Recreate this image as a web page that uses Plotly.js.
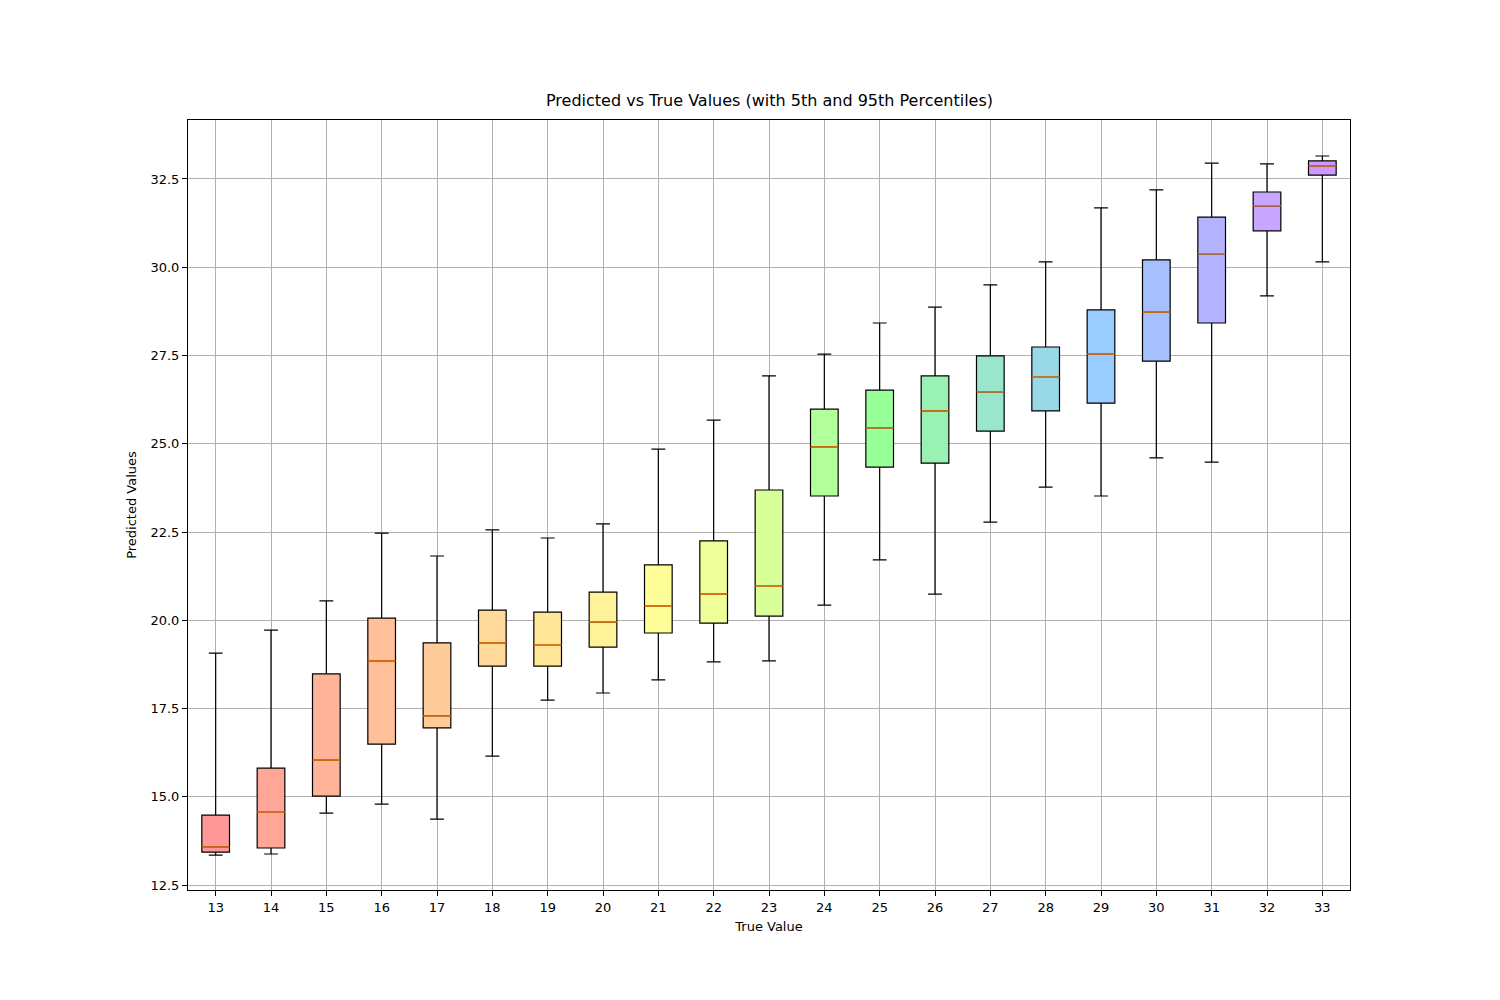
<!DOCTYPE html>
<html>
<head>
<script src="https://cdn.plot.ly/plotly-3.0.1.min.js"></script>
<style>body{margin:0;background:#fff}</style>
</head>
<body>
<div id="chart" style="width:1500px;height:1000px"></div>
<script>
var trueValues = [13,14,15,16,17,18,19,20,21,22,23,24,25,26,27,28,29,30,31,32,33];
var p5     = [13.35,13.38,14.54,14.79,14.37,16.15,17.74,17.94,18.31,18.82,18.85,20.43,21.71,20.74,22.78,23.77,23.52,24.60,24.48,29.19,30.15];
var q1     = [13.43,13.55,15.02,16.49,16.95,18.70,18.70,19.24,19.64,19.92,20.12,23.52,24.34,24.45,25.36,25.93,26.15,27.34,28.42,31.03,32.61];
var median = [13.58,14.57,16.04,18.85,17.29,19.36,19.30,19.95,20.40,20.74,20.97,24.91,25.45,25.93,26.47,26.89,27.54,28.73,30.38,31.74,32.87];
var q3     = [14.48,15.81,18.48,20.06,19.36,20.29,20.23,20.80,21.57,22.25,23.69,25.98,26.52,26.92,27.49,27.74,28.79,30.21,31.42,32.13,33.01];
var p95    = [19.07,19.72,20.55,22.47,21.82,22.56,22.33,22.73,24.85,25.67,26.92,27.54,28.42,28.87,29.50,30.15,31.68,32.19,32.95,32.93,33.15];
var colors = ['#ff9999','#ffa699','#ffb399','#ffbf99','#ffcc99','#ffd999','#ffe699','#fff299','#ffff99','#eeff99','#d9ff99','#b3ff99','#99ff99','#99f2b3','#99e6cc','#99d9e6','#99ccff','#a6bfff','#b3b3ff','#c6a6ff','#cc99ff'];

var data = [];
for (var i = 0; i < trueValues.length; i++) {
  data.push({
    type: 'box', x: [trueValues[i]],
    q1: [q1[i]], median: [median[i]], q3: [q3[i]],
    lowerfence: [p5[i]], upperfence: [p95[i]],
    width: 0.5, whiskerwidth: 0.5,
    fillcolor: colors[i], line: {color: '#000', width: 1.2},
    boxpoints: false, showlegend: false, hoverinfo: 'skip'
  });
}
// orange median lines on top
var mx = [], my = [];
for (var i = 0; i < trueValues.length; i++) {
  mx.push(trueValues[i] - 0.25, trueValues[i] + 0.25, null);
  my.push(median[i], median[i], null);
}
data.push({type: 'scatter', mode: 'lines', x: mx, y: my, line: {color: '#ff7f0e', width: 1.3}, showlegend: false, hoverinfo: 'skip'});

var axisStyle = {showline: true, mirror: true, linecolor: '#000', linewidth: 1, ticks: 'outside', ticklen: 5, tickcolor: '#000',
  showgrid: true, gridcolor: '#b0b0b0', gridwidth: 1, zeroline: false, tickfont: {size: 13, color: '#000'}};

var layout = {
  width: 1500, height: 1000,
  paper_bgcolor: '#fff', plot_bgcolor: '#fff',
  font: {family: 'DejaVu Sans', color: '#000'},
  margin: {l: 188, r: 150, t: 120, b: 110},
  title: {text: 'Predicted vs True Values (with 5th and 95th Percentiles)', font: {size: 16}, x: 0.513, xanchor: 'center', y: 0.905},
  xaxis: Object.assign({}, axisStyle, {range: [12.5, 33.5], tickmode: 'array', tickvals: trueValues,
    title: {text: 'True Value', font: {size: 13}, standoff: 8}}),
  yaxis: Object.assign({}, axisStyle, {range: [12.36, 34.17], dtick: 2.5, tick0: 12.5, tickformat: '.1f',
    title: {text: 'Predicted Values', font: {size: 13}, standoff: 10}})
};
Plotly.newPlot('chart', data, layout, {displayModeBar: false});
</script>
</body>
</html>
